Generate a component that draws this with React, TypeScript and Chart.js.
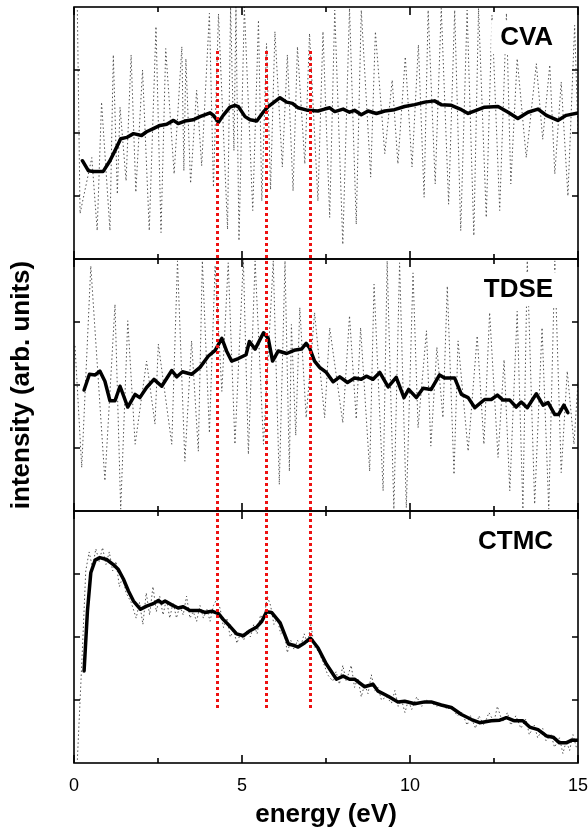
import React, { useEffect, useRef } from "react";
import { Chart, registerables } from "chart.js";
Chart.register(...registerables);

const FONT = "'Liberation Sans', Arial, Helvetica, sans-serif";

// axis / tick definitions
const xRange = [0, 15];
const yRange = [0, 4];
const xTickLabels = [0, 5, 10, 15];
const xMajorTicks = [0, 5, 10, 15];
const xMinorTicks = [2.5, 7.5, 12.5];
const yTickValues = [1, 2, 3];
const panelNames = ["CVA", "TDSE", "CTMC"];
const panelAxisIds = ["yCVA", "yTDSE", "yCTMC"];
const labelAnchor = [14.26, 3.52]; // energy, intensity (panel units)

// red dotted markers (eV) spanning from CVA panel to CTMC panel
const markerEnergies = [4.27, 5.72, 7.02];
const markerTopValue = 3.3; // CVA panel units
const markerBottomValue = 0.87; // CTMC panel units

// CVA
const cvaSmooth = [
  [0.25, 1.56], [0.43, 1.4], [0.57, 1.39], [0.87, 1.39], [1.07, 1.56], [1.22, 1.72], [1.39, 1.91],
  [1.57, 1.93], [1.77, 1.99], [2.01, 1.96], [2.16, 2.02], [2.36, 2.07], [2.56, 2.12], [2.76, 2.14],
  [2.96, 2.2], [3.1, 2.15], [3.3, 2.19], [3.55, 2.21], [3.75, 2.26], [4.05, 2.32], [4.15, 2.28],
  [4.3, 2.17], [4.44, 2.28], [4.64, 2.41], [4.79, 2.44], [4.89, 2.42], [5.09, 2.26], [5.24, 2.21],
  [5.44, 2.19], [5.63, 2.33], [5.78, 2.42], [6.13, 2.56], [6.33, 2.49], [6.5, 2.47], [6.67, 2.4],
  [6.96, 2.36], [7.26, 2.35], [7.46, 2.38], [7.61, 2.4], [7.76, 2.34], [8.01, 2.38], [8.2, 2.33],
  [8.35, 2.36], [8.55, 2.29], [8.75, 2.35], [9.0, 2.31], [9.25, 2.35], [9.54, 2.37], [9.84, 2.42],
  [10.14, 2.45], [10.44, 2.49], [10.73, 2.51], [10.93, 2.45], [11.23, 2.44], [11.53, 2.37],
  [11.73, 2.31], [11.93, 2.35], [12.22, 2.41], [12.62, 2.42], [12.92, 2.33], [13.21, 2.23],
  [13.51, 2.33], [13.81, 2.38], [14.06, 2.28], [14.4, 2.2], [14.65, 2.28], [15.0, 2.32],
];
const cvaRaw = [
  [0.1, 3.95], [0.18, 0.72], [0.53, 1.61], [0.69, 0.45], [0.82, 2.49], [1.07, 0.45], [1.17, 3.24],
  [1.29, 1.03], [1.37, 2.41], [1.55, 1.24], [1.7, 3.24], [1.84, 1.06], [2.04, 3.0], [2.24, 0.45],
  [2.44, 3.69], [2.59, 0.42], [2.73, 3.34], [2.98, 1.35], [3.21, 3.37], [3.27, 1.4], [3.33, 3.18],
  [3.47, 1.2], [3.65, 2.68], [3.8, 1.48], [4.03, 3.9], [4.15, 1.14], [4.3, 3.89], [4.57, 0.47],
  [4.66, 4.0], [4.76, 1.72], [4.82, 4.0], [4.91, 0.29], [5.07, 4.0], [5.32, 0.77], [5.49, 3.79],
  [5.59, 0.92], [5.73, 3.42], [5.85, 1.1], [5.98, 3.61], [6.2, 1.46], [6.35, 3.24], [6.52, 1.08],
  [6.65, 3.37], [6.87, 1.51], [7.01, 3.58], [7.26, 0.92], [7.41, 3.61], [7.61, 0.66], [7.76, 3.95],
  [8.0, 0.23], [8.2, 3.98], [8.4, 0.55], [8.55, 3.95], [8.83, 1.3], [8.97, 3.61], [9.25, 1.67],
  [9.47, 2.84], [9.64, 1.51], [9.86, 3.21], [10.06, 1.46], [10.25, 3.4], [10.42, 0.98], [10.54, 3.95],
  [10.75, 1.19], [10.93, 3.98], [11.15, 0.87], [11.33, 3.95], [11.51, 0.45], [11.7, 3.95], [11.9, 0.37],
  [12.04, 3.98], [12.27, 0.66], [12.44, 3.87], [12.67, 0.77], [12.87, 3.9], [13.0, 1.19], [13.19, 3.18],
  [13.46, 1.61], [13.76, 3.1], [13.95, 1.9], [14.16, 3.08], [14.31, 1.35], [14.5, 2.81], [14.7, 1.0],
  [14.9, 3.71], [15.0, 2.0],
];

// TDSE
const tdseSmooth = [
  [0.3, 1.92], [0.46, 2.17], [0.63, 2.16], [0.77, 2.22], [0.92, 2.06], [1.07, 1.75], [1.22, 1.75],
  [1.37, 1.98], [1.6, 1.65], [1.82, 1.85], [1.96, 1.8], [2.16, 1.96], [2.38, 2.09], [2.61, 1.98],
  [2.91, 2.23], [3.06, 2.13], [3.23, 2.21], [3.5, 2.17], [3.75, 2.28], [4.0, 2.46], [4.2, 2.55],
  [4.4, 2.74], [4.54, 2.54], [4.69, 2.38], [4.89, 2.42], [5.12, 2.48], [5.22, 2.69], [5.39, 2.57],
  [5.64, 2.83], [5.78, 2.74], [5.91, 2.38], [6.08, 2.54], [6.33, 2.5], [6.55, 2.55], [6.77, 2.57],
  [6.91, 2.66], [7.01, 2.59], [7.16, 2.38], [7.31, 2.28], [7.51, 2.2], [7.71, 2.05], [7.91, 2.13],
  [8.14, 2.04], [8.35, 2.11], [8.55, 2.09], [8.7, 2.14], [8.9, 2.09], [9.1, 2.2], [9.35, 1.97],
  [9.59, 2.12], [9.82, 1.8], [9.96, 1.93], [10.19, 1.8], [10.39, 1.95], [10.63, 1.93], [10.88, 2.16],
  [11.03, 2.11], [11.33, 2.11], [11.53, 1.85], [11.73, 1.8], [11.93, 1.64], [12.22, 1.77],
  [12.42, 1.77], [12.6, 1.84], [12.77, 1.76], [12.97, 1.76], [13.16, 1.65], [13.31, 1.73],
  [13.49, 1.64], [13.76, 1.86], [13.96, 1.68], [14.11, 1.72], [14.31, 1.53], [14.42, 1.53],
  [14.58, 1.68], [14.7, 1.56],
];
const tdseRaw = [
  [0.03, 2.62], [0.23, 0.69], [0.5, 3.89], [0.92, 0.48], [1.22, 3.28], [1.39, 0.03], [1.6, 3.02],
  [1.82, 1.06], [2.16, 2.38], [2.41, 1.38], [2.51, 2.65], [2.91, 1.06], [3.08, 3.97], [3.3, 0.79],
  [3.5, 2.7], [3.7, 0.95], [3.82, 3.97], [4.03, 1.24], [4.2, 3.9], [4.4, 1.9], [4.59, 3.94],
  [4.79, 1.06], [5.04, 4.0], [5.19, 0.9], [5.39, 3.97], [5.64, 1.06], [5.93, 3.97], [6.11, 0.42],
  [6.28, 3.97], [6.41, 0.63], [6.47, 2.96], [6.6, 1.2], [6.72, 3.23], [6.91, 1.48], [7.16, 3.15],
  [7.46, 1.48], [7.61, 2.91], [8.0, 1.4], [8.2, 3.1], [8.4, 1.46], [8.53, 2.91], [8.8, 0.63],
  [8.93, 3.6], [9.2, 0.32], [9.32, 3.97], [9.52, 0.03], [9.69, 3.94], [9.89, 0.05], [10.09, 3.78],
  [10.24, 1.32], [10.49, 2.86], [10.62, 1.03], [10.8, 2.6], [10.98, 1.48], [11.11, 3.57],
  [11.31, 0.58], [11.43, 2.7], [11.73, 0.95], [12.0, 2.78], [12.2, 1.06], [12.37, 3.15], [12.62, 0.85],
  [12.8, 2.4], [12.97, 0.32], [13.19, 3.17], [13.36, 0.03], [13.49, 3.97], [13.71, 0.11], [13.93, 2.91],
  [14.13, 0.03], [14.31, 3.97], [14.5, 0.61], [14.68, 2.22], [14.88, 1.06], [15.0, 2.05],
];

// CTMC
const ctmcSmooth = [
  [0.3, 1.46], [0.4, 2.41], [0.5, 3.02], [0.63, 3.22], [0.77, 3.26], [0.97, 3.23], [1.17, 3.15],
  [1.32, 3.07], [1.47, 2.92], [1.62, 2.73], [1.77, 2.57], [1.98, 2.44], [2.16, 2.49], [2.36, 2.53],
  [2.51, 2.58], [2.61, 2.54], [2.71, 2.57], [2.91, 2.51], [3.1, 2.46], [3.25, 2.48], [3.45, 2.42],
  [3.75, 2.42], [3.9, 2.39], [4.1, 2.41], [4.3, 2.37], [4.44, 2.28], [4.64, 2.17], [4.84, 2.05],
  [5.04, 2.02], [5.24, 2.1], [5.44, 2.16], [5.59, 2.25], [5.73, 2.4], [5.88, 2.39], [6.13, 2.23],
  [6.38, 1.89], [6.53, 1.87], [6.67, 1.84], [6.87, 1.91], [7.04, 1.98], [7.26, 1.83], [7.51, 1.57],
  [7.81, 1.33], [8.01, 1.38], [8.2, 1.33], [8.35, 1.33], [8.65, 1.21], [8.9, 1.25], [9.05, 1.14],
  [9.35, 1.06], [9.64, 0.97], [9.84, 0.98], [10.14, 0.94], [10.44, 0.97], [10.63, 0.97],
  [10.93, 0.92], [11.23, 0.88], [11.53, 0.77], [11.83, 0.69], [12.07, 0.64], [12.42, 0.67],
  [12.67, 0.68], [12.87, 0.72], [13.11, 0.67], [13.36, 0.67], [13.56, 0.57], [13.81, 0.53],
  [14.06, 0.43], [14.26, 0.41], [14.45, 0.32], [14.65, 0.32], [14.8, 0.36], [15.0, 0.36],
];
const ctmcRaw = [
  [0.1, 0.05], [0.25, 1.8], [0.35, 3.05], [0.45, 3.35], [0.55, 3.1], [0.65, 3.4], [0.75, 3.2],
  [0.85, 3.42], [0.95, 3.15], [1.05, 3.35], [1.15, 3.05], [1.25, 3.2], [1.35, 2.8], [1.45, 2.95],
  [1.55, 2.7], [1.7, 2.55], [1.85, 2.3], [1.95, 2.55], [2.05, 2.2], [2.15, 2.7], [2.25, 2.35],
  [2.35, 2.8], [2.45, 2.4], [2.55, 2.65], [2.65, 2.35], [2.75, 2.6], [2.85, 2.3], [2.95, 2.55],
  [3.05, 2.3], [3.15, 2.5], [3.25, 2.35], [3.35, 2.65], [3.45, 2.3], [3.55, 2.4], [3.65, 2.25],
  [3.75, 2.5], [3.85, 2.3], [3.95, 2.45], [4.05, 2.25], [4.15, 2.5], [4.25, 2.6], [4.35, 2.45],
  [4.45, 2.15], [4.55, 2.3], [4.65, 2.0], [4.75, 2.1], [4.85, 1.9], [4.95, 2.05], [5.05, 1.95],
  [5.15, 2.1], [5.25, 2.0], [5.35, 2.2], [5.45, 2.05], [5.55, 2.35], [5.65, 2.25], [5.75, 2.65],
  [5.85, 2.5], [5.95, 2.2], [6.05, 2.3], [6.15, 2.05], [6.25, 2.1], [6.35, 1.75], [6.45, 1.95],
  [6.55, 1.8], [6.65, 1.95], [6.75, 1.85], [6.85, 2.05], [6.95, 1.9], [7.05, 2.2], [7.15, 1.85],
  [7.3, 1.75], [7.45, 1.55], [7.55, 1.4], [7.7, 1.3], [7.8, 1.45], [7.9, 1.25], [8.0, 1.55],
  [8.1, 1.3], [8.25, 1.55], [8.35, 1.2], [8.45, 1.35], [8.55, 1.05], [8.65, 1.25], [8.75, 1.1],
  [8.85, 1.4], [8.95, 1.15], [9.05, 1.2], [9.15, 1.0], [9.3, 1.05], [9.45, 0.95], [9.55, 1.15],
  [9.65, 0.9], [9.75, 1.0], [9.85, 0.8], [9.95, 1.0], [10.05, 0.85], [10.2, 1.05], [10.35, 0.9],
  [10.5, 1.0], [10.65, 0.95], [10.8, 0.9], [10.95, 0.95], [11.1, 0.85], [11.25, 0.9], [11.4, 0.75],
  [11.55, 0.8], [11.7, 0.6], [11.8, 0.75], [11.95, 0.55], [12.05, 0.75], [12.2, 0.6], [12.35, 0.8],
  [12.5, 0.65], [12.6, 0.9], [12.75, 0.65], [12.9, 0.8], [13.0, 0.6], [13.15, 0.75], [13.3, 0.55],
  [13.45, 0.7], [13.55, 0.45], [13.7, 0.6], [13.8, 0.4], [13.95, 0.55], [14.05, 0.35], [14.2, 0.45],
  [14.3, 0.25], [14.45, 0.4], [14.55, 0.15], [14.65, 0.35], [14.75, 0.2], [14.85, 0.45], [14.95, 0.25],
];

const toXY = (arr: number[][]) => arr.map(([x, y]) => ({ x, y }));

const rawStyle = {
  borderColor: "#505050",
  borderWidth: 1,
  borderDash: [1.5, 2.5],
  order: 1,
};
const smoothStyle = {
  borderColor: "#000000",
  borderWidth: 3.5,
  borderJoinStyle: "round" as const,
  borderCapStyle: "round" as const,
  order: 0,
};

const framePlugin = {
  id: "frames",
  afterDatasetsDraw(chart: any) {
    const { ctx } = chart;
    const xs = chart.scales.x;
    // panel labels on white boxes
    ctx.save();
    ctx.font = `bold 26px ${FONT}`;
    ctx.textAlign = "right";
    ctx.textBaseline = "middle";
    panelAxisIds.forEach((id, i) => {
      const s = chart.scales[id];
      const px = xs.getPixelForValue(labelAnchor[0]);
      const py = s.getPixelForValue(labelAnchor[1]);
      const w = ctx.measureText(panelNames[i]).width;
      ctx.fillStyle = "#ffffff";
      ctx.fillRect(px - w - 9, py - 17, w + 18, 34);
      ctx.fillStyle = "#000000";
      ctx.fillText(panelNames[i], px, py + 1);
    });
    ctx.restore();
    // red dotted markers
    const top = chart.scales.yCVA.getPixelForValue(markerTopValue);
    const bottom = chart.scales.yCTMC.getPixelForValue(markerBottomValue);
    ctx.save();
    ctx.strokeStyle = "#ee1111";
    ctx.lineWidth = 3;
    ctx.setLineDash([3, 3]);
    markerEnergies.forEach((e) => {
      const px = Math.round(xs.getPixelForValue(e)) + 0.5;
      ctx.beginPath();
      ctx.moveTo(px, top);
      ctx.lineTo(px, bottom);
      ctx.stroke();
    });
    ctx.restore();
  },
  afterDraw(chart: any) {
    const { ctx, chartArea } = chart;
    const xs = chart.scales.x;
    const left = chartArea.left;
    const right = chartArea.right;
    ctx.save();
    ctx.strokeStyle = "#000000";
    ctx.lineWidth = 1.6;
    panelAxisIds.forEach((id) => {
      const s = chart.scales[id];
      const top = s.top;
      const bottom = s.bottom;
      ctx.strokeRect(left, top, right - left, bottom - top);
      ctx.beginPath();
      xMajorTicks.forEach((v) => {
        const px = xs.getPixelForValue(v);
        ctx.moveTo(px, top);
        ctx.lineTo(px, top + 8);
        ctx.moveTo(px, bottom);
        ctx.lineTo(px, bottom - 8);
      });
      xMinorTicks.forEach((v) => {
        const px = xs.getPixelForValue(v);
        ctx.moveTo(px, top);
        ctx.lineTo(px, top + 5);
        ctx.moveTo(px, bottom);
        ctx.lineTo(px, bottom - 5);
      });
      yTickValues.forEach((v) => {
        const py = s.getPixelForValue(v);
        ctx.moveTo(left, py);
        ctx.lineTo(left + 6, py);
        ctx.moveTo(right, py);
        ctx.lineTo(right - 6, py);
      });
      ctx.stroke();
    });
    ctx.restore();
  },
};

const panelAxis = (weight: number, withTitle: boolean) => ({
  type: "linear" as const,
  min: yRange[0],
  max: yRange[1],
  position: "left" as const,
  stack: "panels",
  stackWeight: 1,
  weight,
  grid: { display: false, drawTicks: false },
  border: { display: false },
  ticks: { display: false },
  title: {
    display: withTitle,
    text: "intensity (arb. units)",
    color: "#000000",
    font: { family: FONT, size: 26, weight: "bold" as const },
    padding: { top: 6, bottom: 0 },
  },
  afterFit: (s: any) => {
    s.width = 74;
  },
});

export default function App() {
  const ref = useRef<HTMLCanvasElement | null>(null);
  useEffect(() => {
    document.body.style.margin = "0";
    const canvas = ref.current;
    if (!canvas) return;
    const chart = new Chart(canvas, {
      type: "line",
      data: {
        datasets: [
          { label: "CVA raw", data: toXY(cvaRaw), yAxisID: "yCVA", ...rawStyle },
          { label: "CVA", data: toXY(cvaSmooth), yAxisID: "yCVA", ...smoothStyle },
          { label: "TDSE raw", data: toXY(tdseRaw), yAxisID: "yTDSE", ...rawStyle },
          { label: "TDSE", data: toXY(tdseSmooth), yAxisID: "yTDSE", ...smoothStyle },
          { label: "CTMC raw", data: toXY(ctmcRaw), yAxisID: "yCTMC", ...rawStyle },
          { label: "CTMC", data: toXY(ctmcSmooth), yAxisID: "yCTMC", ...smoothStyle },
        ] as any,
      },
      options: {
        animation: false,
        responsive: false,
        devicePixelRatio: 1,
        layout: { padding: { top: 7, right: 10, left: 0, bottom: -0.8 } },
        elements: { point: { radius: 0, hoverRadius: 0 }, line: { tension: 0 } },
        plugins: { legend: { display: false }, tooltip: { enabled: false } },
        scales: {
          x: {
            type: "linear",
            position: "bottom",
            min: xRange[0],
            max: xRange[1],
            grid: { display: false, drawTicks: false },
            border: { display: false },
            ticks: {
              color: "#000000",
              font: { family: FONT, size: 18 },
              padding: 12,
              maxRotation: 0,
              autoSkip: false,
            },
            afterBuildTicks: (s: any) => {
              s.ticks = xTickLabels.map((v) => ({ value: v }));
            },
            afterFit: (s: any) => {
              s.paddingLeft = 0;
              s.paddingRight = 0;
            },
            title: {
              display: true,
              text: "energy (eV)",
              color: "#000000",
              font: { family: FONT, size: 26, weight: "bold" },
              padding: { top: -9, bottom: 0 },
            },
          },
          yCVA: panelAxis(3, false),
          yTDSE: panelAxis(2, true),
          yCTMC: panelAxis(1, false),
        } as any,
      },
      plugins: [framePlugin],
    });
    return () => chart.destroy();
  }, []);
  return (
    <canvas ref={ref} width={588} height={830} style={{ display: "block", width: 588, height: 830 }} />
  );
}
